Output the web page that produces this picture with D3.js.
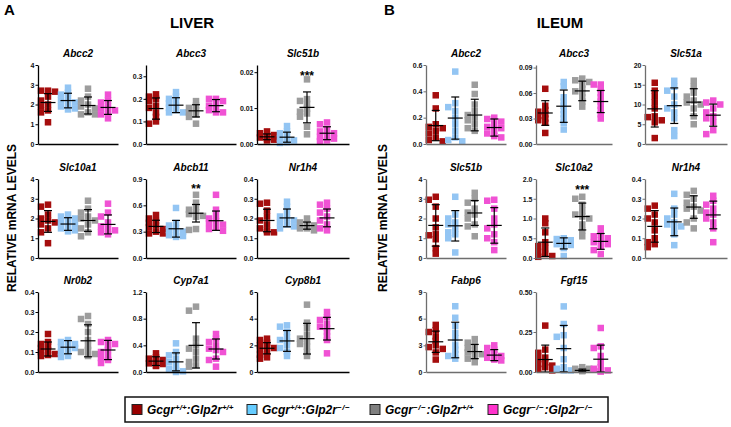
<!DOCTYPE html>
<html>
<head>
<meta charset="utf-8">
<script src="https://cdn.jsdelivr.net/npm/d3@7"></script>
<style>
  body { margin: 0; background: #fff; }
  svg { display: block; font-family: Arial, "Liberation Sans", sans-serif; }
</style>
</head>
<body>
<svg id="chart"></svg>
<script>
// ---- data ----
let groups = ["wt", "glp2rKO", "gcgrKO", "dKO"]

let genes = ["Abcc2", "Abcc3", "Slc51b", "Slc10a1", "Abcb11", "Nr1h4", "Nr0b2", "Cyp7a1", "Cyp8b1",
             "Abcc2", "Abcc3", "Slc51a", "Slc51b", "Slc10a2", "Nr1h4", "Fabp6", "Fgf15"]

let tickLabels = [
  ["0", "1", "2", "3", "4"], ["0.0", "0.1", "0.2", "0.3"], ["0.00", "0.01", "0.02"],
  ["0", "1", "2", "3", "4"], ["0.0", "0.3", "0.6", "0.9"], ["0.0", "0.1", "0.2", "0.3", "0.4"],
  ["0.0", "0.1", "0.2", "0.3", "0.4"], ["0.0", "0.4", "0.8", "1.2"], ["0", "2", "4", "6"],
  ["0.0", "0.2", "0.4", "0.6"], ["0.00", "0.03", "0.06", "0.09"], ["0", "5", "10", "15", "20"],
  ["0", "1", "2", "3", "4"], ["0.0", "0.5", "1.0", "1.5", "2.0"], ["0.0", "0.1", "0.2", "0.3", "0.4"],
  ["0", "3", "6", "9"], ["0.00", "0.25", "0.50"]
]

let yMax = [4, 0.35, 0.022, 4, 0.9, 0.4, 0.4, 1.2, 6, 0.6, 0.093, 20, 4, 2.0, 0.4, 9, 0.5]

let points = [
  // LIVER
  [[2.7, 2.7, 2.65, 2.4, 2.2, 2.0, 1.9, 1.7, 1.6, 1.1], [2.85, 2.6, 2.5, 2.3, 2.2, 2.1, 2.0, 1.9, 1.8, 1.75],
   [2.8, 2.4, 2.2, 2.0, 1.9, 1.8, 1.6, 1.5, 1.5], [2.5, 2.2, 2.1, 1.9, 1.8, 1.7, 1.6, 1.5, 1.3]],
  [[0.22, 0.21, 0.2, 0.19, 0.17, 0.16, 0.14, 0.12, 0.10, 0.09], [0.23, 0.21, 0.2, 0.19, 0.18, 0.17, 0.16, 0.15, 0.14, 0.14],
   [0.19, 0.17, 0.16, 0.15, 0.14, 0.13, 0.12, 0.09], [0.2, 0.2, 0.19, 0.18, 0.17, 0.16, 0.15, 0.14, 0.14]],
  [[0.0035, 0.003, 0.0025, 0.002, 0.002, 0.0018, 0.0015, 0.0012, 0.001], [0.005, 0.0035, 0.003, 0.002, 0.0015, 0.001, 0.0008, 0.0005, 0.0003],
   [0.018, 0.0125, 0.012, 0.0112, 0.0098, 0.009, 0.0085, 0.0076, 0.0048, 0.0027], [0.006, 0.0055, 0.004, 0.0035, 0.003, 0.0025, 0.002, 0.0015, 0.001, 0.0008]],
  [[2.7, 2.6, 2.2, 2.0, 1.9, 1.8, 1.7, 1.5, 1.3, 0.75], [2.2, 2.1, 2.0, 1.9, 1.8, 1.7, 1.6, 1.5, 1.4, 1.35],
   [2.9, 2.5, 2.3, 2.1, 2.0, 1.9, 1.7, 1.5, 1.3, 1.1], [2.75, 2.3, 2.1, 1.8, 1.6, 1.5, 1.4, 1.3, 1.2]],
  [[0.49, 0.45, 0.42, 0.4, 0.37, 0.35, 0.33, 0.3, 0.28, 0.28], [0.57, 0.4, 0.37, 0.34, 0.32, 0.3, 0.28, 0.26, 0.25, 0.24],
   [0.72, 0.63, 0.58, 0.55, 0.52, 0.5, 0.48, 0.47, 0.33, 0.32], [0.72, 0.55, 0.48, 0.45, 0.42, 0.4, 0.38, 0.35, 0.33, 0.31]],
  [[0.28, 0.275, 0.24, 0.21, 0.19, 0.17, 0.15, 0.14, 0.13, 0.13], [0.285, 0.26, 0.23, 0.21, 0.2, 0.19, 0.18, 0.17, 0.16, 0.15],
   [0.2, 0.18, 0.17, 0.165, 0.16, 0.15, 0.15, 0.14], [0.28, 0.27, 0.25, 0.23, 0.21, 0.19, 0.17, 0.15, 0.14]],
  [[0.19, 0.15, 0.14, 0.13, 0.12, 0.11, 0.1, 0.09, 0.085, 0.08], [0.16, 0.15, 0.14, 0.13, 0.125, 0.12, 0.11, 0.1, 0.08, 0.075],
   [0.28, 0.265, 0.24, 0.2, 0.16, 0.13, 0.11, 0.1, 0.09, 0.08], [0.16, 0.15, 0.14, 0.13, 0.11, 0.1, 0.08, 0.07, 0.06, 0.045]],
  [[0.28, 0.22, 0.2, 0.18, 0.16, 0.15, 0.13, 0.12, 0.1, 0.09], [0.43, 0.3, 0.25, 0.2, 0.15, 0.1, 0.05, 0.03, 0.01, 0.0],
   [0.98, 0.92, 0.5, 0.4, 0.35, 0.3, 0.2, 0.15, 0.1, 0.08], [0.57, 0.5, 0.45, 0.4, 0.35, 0.33, 0.3, 0.2, 0.18, 0.08]],
  [[2.5, 2.4, 2.2, 2.0, 1.9, 1.8, 1.7, 1.5, 1.3, 1.1, 1.0], [3.5, 3.4, 3.0, 2.6, 2.4, 2.3, 2.0, 1.8, 1.5, 1.2],
   [5.05, 3.7, 3.3, 2.8, 2.5, 2.3, 2.1, 1.9, 1.5, 1.2], [4.5, 4.1, 3.9, 3.6, 3.4, 3.3, 3.0, 2.7, 2.4, 1.4]],
  // ILEUM
  [[0.37, 0.27, 0.15, 0.13, 0.12, 0.1, 0.08, 0.05, 0.03, 0.02], [0.55, 0.31, 0.28, 0.25, 0.2, 0.15, 0.1, 0.05, 0.03, 0.02],
   [0.45, 0.38, 0.3, 0.25, 0.22, 0.2, 0.18, 0.15, 0.12, 0.1], [0.2, 0.19, 0.17, 0.15, 0.13, 0.12, 0.1, 0.08, 0.06, 0.05]],
  [[0.065, 0.045, 0.04, 0.038, 0.035, 0.033, 0.03, 0.028, 0.025, 0.013], [0.073, 0.068, 0.055, 0.05, 0.045, 0.04, 0.035, 0.03, 0.025, 0.017],
   [0.077, 0.075, 0.073, 0.07, 0.065, 0.062, 0.06, 0.055, 0.05, 0.044], [0.07, 0.07, 0.065, 0.06, 0.055, 0.05, 0.045, 0.04, 0.035, 0.03]],
  [[15.5, 13.5, 12, 10.5, 9, 7, 6.8, 6, 5.5, 1.5], [16, 14.5, 13.5, 12, 10, 9, 8, 6.5, 3.5, 2],
   [16, 14.5, 13, 12, 11, 10.5, 10, 9, 7, 5], [11, 10.5, 10, 9, 8, 7, 6.5, 5.5, 3.5, 2.5]],
  [[3.1, 2.95, 2.6, 2.0, 1.55, 1.2, 1.15, 0.95, 0.5, 0.22], [3.1, 2.2, 2.0, 1.8, 1.7, 1.5, 1.3, 1.2, 1.0, 0.28],
   [3.3, 3.0, 2.8, 2.5, 2.3, 2.2, 2.0, 1.7, 1.6, 1.1], [2.95, 2.9, 2.5, 2.0, 1.7, 1.5, 1.2, 1.0, 0.8, 0.4]],
  [[1.0, 0.88, 0.65, 0.4, 0.3, 0.25, 0.15, 0.1, 0.05, 0.03], [0.5, 0.48, 0.45, 0.4, 0.35, 0.33, 0.3, 0.25, 0.05],
   [1.55, 1.5, 1.35, 1.2, 1.1, 1.05, 1.0, 0.85, 0.7, 0.55], [0.75, 0.6, 0.55, 0.5, 0.45, 0.4, 0.35, 0.3, 0.2, 0.1]],
  [[0.265, 0.25, 0.22, 0.2, 0.18, 0.14, 0.1, 0.08, 0.07, 0.055], [0.325, 0.25, 0.22, 0.2, 0.18, 0.17, 0.16, 0.15, 0.12, 0.065],
   [0.34, 0.32, 0.3, 0.28, 0.26, 0.25, 0.24, 0.2, 0.18, 0.15], [0.315, 0.29, 0.27, 0.25, 0.23, 0.22, 0.2, 0.18, 0.15, 0.08]],
  [[5.3, 4.7, 4.5, 4.0, 3.5, 3.0, 2.8, 2.6, 2.2, 1.4], [7.4, 6.1, 5.2, 4.4, 3.8, 3.0, 2.5, 2.0, 1.8, 1.5],
   [3.7, 3.3, 3.0, 2.7, 2.4, 2.2, 2.0, 1.8, 1.5, 1.1], [3.0, 2.7, 2.5, 2.2, 2.0, 1.8, 1.6, 1.5, 1.4, 1.3]],
  [[0.29, 0.14, 0.12, 0.09, 0.08, 0.06, 0.05, 0.04, 0.03, 0.02, 0.01], [0.41, 0.3, 0.23, 0.22, 0.15, 0.08, 0.03, 0.02, 0.01, 0.01],
   [0.03, 0.02, 0.02, 0.015, 0.01, 0.01, 0.008, 0.005], [0.275, 0.16, 0.15, 0.1, 0.06, 0.03, 0.02, 0.01, 0.005, 0.003]]
]

let means = [
  [2.1, 2.2, 1.95, 1.85], [0.157, 0.172, 0.147, 0.17], [0.002, 0.0019, 0.0102, 0.003],
  [1.85, 1.72, 1.9, 1.7], [0.36, 0.333, 0.51, 0.425], [0.19, 0.203, 0.164, 0.203],
  [0.115, 0.124, 0.156, 0.11], [0.163, 0.152, 0.40, 0.345], [1.78, 2.33, 2.5, 3.25],
  [0.14, 0.197, 0.22, 0.125], [0.0365, 0.0445, 0.0625, 0.05], [8.9, 9.7, 10.6, 7.3],
  [1.65, 1.63, 2.28, 1.65], [0.4, 0.37, 1.05, 0.42], [0.16, 0.183, 0.258, 0.218],
  [3.4, 3.6, 2.3, 1.9], [0.078, 0.146, 0.01, 0.08]
]

let sds = [
  [0.45, 0.37, 0.43, 0.35], [0.047, 0.033, 0.027, 0.027], [0.0008, 0.0014, 0.0043, 0.0018],
  [0.55, 0.32, 0.55, 0.48], [0.07, 0.095, 0.1, 0.11], [0.057, 0.045, 0.018, 0.045],
  [0.035, 0.033, 0.08, 0.048], [0.065, 0.135, 0.34, 0.15], [0.42, 0.78, 1.15, 0.85],
  [0.115, 0.16, 0.12, 0.065], [0.0145, 0.019, 0.0115, 0.013], [4.6, 4.5, 3.4, 2.8],
  [1.05, 0.77, 0.63, 0.9], [0.36, 0.14, 0.34, 0.2], [0.08, 0.07, 0.057, 0.07],
  [1.2, 2.0, 0.8, 0.62], [0.09, 0.145, 0.008, 0.088]
]

let stars = ["", "", "***", "", "**", "", "", "", "", "", "", "", "", "***", "", "", ""]
let starLevel = [0, 0, 0.0195, 0, 0.81, 0, 0, 0, 0, 0, 0, 0, 0, 1.78, 0, 0, 0]

let sideTitles = ["LIVER", "ILEUM"]
let sideLetters = ["A", "B"]
let legendParts = [
  ["Gcgr", "+/+", ":Glp2r", "+/+"],
  ["Gcgr", "+/+", ":Glp2r", "−/−"],
  ["Gcgr", "−/−", ":Glp2r", "+/+"],
  ["Gcgr", "−/−", ":Glp2r", "−/−"]
]

// ---- layout / style ----
let width = 731
let height = 427
let colors = ["#a50d0d", "#93c5f3", "#9d9d9d", "#f052d4"]
let legendColors = ["#990000", "#66ccff", "#808080", "#ff33cc"]
let colX = [[38, 146, 257], [426, 536, 645]]
let axisLen = [[80, 90, 92], [80, 76, 82]]
let spread = [[80, 80, 80], [78, 74, 78]]
let rowTop = [65, 179, 292]
let rowBottom = [144, 258, 372]
let axisColor = ["#000", "#6e6e6e"]
let ptSize = 6.5

let svg = d3.select('#chart').attr('width', width).attr('height', height)

let drawPanel = (i) => {
  let side = i < 9 ? 0 : 1
  let k = side ? i - 9 : i
  let row = Math.floor(k / 3)
  let col = k % 3
  let x0 = colX[side][col]

  let yScale = d3.scaleLinear().domain([0, yMax[i]]).range([rowBottom[row], rowTop[row]])
  let xScale = d3.scalePoint().domain(groups).range([x0, x0 + spread[side][col]]).padding(0.5)
  let xLine = d3.scaleLinear().range([x0, x0 + axisLen[side][col]])

  let g = svg.append('g')

  // points, nudged sideways (Prism style) so they only partly overlap
  groups.forEach((grp, gi) => {
    let cx = xScale(grp)
    let placed = []
    let vals = points[i][gi].slice().sort((a, b) => b - a)
    vals.forEach(v => {
      let py = yScale(v)
      let offs = [0, -3.5, 3.5, -7, 7, -9, 9]
      let dx = offs.find(o => !placed.some(p => Math.abs(p.dx - o) < 4.5 && Math.abs(p.py - py) < 4))
      if (dx === undefined) dx = 0
      placed.push({dx: dx, py: py})
    })
    g.selectAll(null)
      .data(placed)
      .enter()
      .append('rect')
      .attr('x', d => cx + d.dx - ptSize / 2)
      .attr('y', d => d.py - ptSize / 2)
      .attr('width', ptSize)
      .attr('height', ptSize)
      .attr('fill', colors[gi])

    // mean +/- SD
    let m = means[i][gi]
    let s = sds[i][gi]
    let yHi = yScale(m + s)
    let yLo = yScale(Math.max(0, m - s))
    let bars = g.append('g').attr('stroke', '#000').attr('stroke-width', 1.2)
    bars.append('line').attr('x1', cx).attr('x2', cx).attr('y1', yHi).attr('y2', yLo)
    bars.append('line').attr('x1', cx - 4).attr('x2', cx + 4).attr('y1', yHi).attr('y2', yHi)
    bars.append('line').attr('x1', cx - 4).attr('x2', cx + 4).attr('y1', yLo).attr('y2', yLo)
    bars.append('line').attr('x1', cx - 7.5).attr('x2', cx + 7.5).attr('y1', yScale(m)).attr('y2', yScale(m))
  })

  // axes
  let labels = tickLabels[i]
  let yAxis = d3.axisLeft(yScale)
                .tickValues(labels.map(Number))
                .tickFormat((d, j) => labels[j])
                .tickSize(2.5)
                .tickSizeOuter(0)
  let ya = g.append('g')
            .attr('transform', 'translate(' + x0 + ',0)')
            .call(yAxis)
  ya.select('.domain').attr('stroke', axisColor[side]).attr('stroke-width', 1.3)
  ya.selectAll('.tick line').attr('stroke', axisColor[side])
  ya.selectAll('.tick text')
    .attr('x', -3.5)
    .attr('fill', '#111')
    .style('font-size', '7px')
    .style('font-weight', 'bold')
    .style('font-family', 'Arial, "Liberation Sans", sans-serif')

  let xa = g.append('g')
            .attr('transform', 'translate(0,' + rowBottom[row] + ')')
            .call(d3.axisBottom(xLine).tickValues([]).tickSizeOuter(0))
  xa.select('.domain').attr('stroke', axisColor[side]).attr('stroke-width', 1.3)

  // gene title
  g.append('text')
    .attr('x', x0 + axisLen[side][col] / 2)
    .attr('y', rowTop[row] - 8)
    .attr('text-anchor', 'middle')
    .style('font-size', '10px')
    .style('font-weight', 'bold')
    .style('font-style', 'italic')
    .text(genes[i])

  if (stars[i]) {
    g.append('text')
      .attr('x', xScale('gcgrKO'))
      .attr('y', yScale(starLevel[i]) + 6)
      .attr('text-anchor', 'middle')
      .style('font-size', '12px')
      .style('font-weight', 'bold')
      .text(stars[i])
  }
}

for (let i = 0; i < genes.length; i++) drawPanel(i)

// titles and side labels
let titleX = [192, 560]
let letterX = [4, 384]
let ylabX = [16, 387]
sideTitles.forEach((t, s) => {
  svg.append('text').attr('x', titleX[s]).attr('y', 28)
    .attr('text-anchor', 'middle')
    .style('font-size', '15px').style('font-weight', 'bold')
    .text(t)
  svg.append('text').attr('x', letterX[s]).attr('y', 15)
    .style('font-size', '15px').style('font-weight', 'bold')
    .text(sideLetters[s])
  svg.append('text')
    .attr('transform', 'translate(' + ylabX[s] + ',218) rotate(-90)')
    .attr('text-anchor', 'middle')
    .style('font-size', '12px').style('font-weight', 'bold')
    .text('RELATIVE mRNA LEVELS')
})

// legend
let legendBox = {x: 125, y: 397, w: 483, h: 25}
svg.append('rect')
  .attr('x', legendBox.x).attr('y', legendBox.y)
  .attr('width', legendBox.w).attr('height', legendBox.h)
  .attr('fill', '#fff').attr('stroke', '#111').attr('stroke-width', 1.5)

let itemX = [132, 247, 370, 488]
legendParts.forEach((parts, li) => {
  let lx = itemX[li]
  let cy = legendBox.y + legendBox.h / 2
  svg.append('rect')
    .attr('x', lx).attr('y', cy - 5)
    .attr('width', 10).attr('height', 10)
    .attr('fill', legendColors[li]).attr('stroke', '#222').attr('stroke-width', 1)
  let t = svg.append('text')
    .attr('x', lx + 15).attr('y', cy + 4.5)
    .style('font-size', '12px').style('font-weight', 'bold').style('font-style', 'italic')
  parts.forEach((p, pi) => {
    let sup = pi % 2 === 1
    t.append('tspan')
      .attr('dy', sup ? -4.5 : (pi === 0 ? 0 : 4.5))
      .style('font-size', sup ? '8px' : '12px')
      .style('letter-spacing', sup && p !== '+/+' ? '0.6px' : null)
      .text(p)
  })
})
</script>
</body>
</html>
